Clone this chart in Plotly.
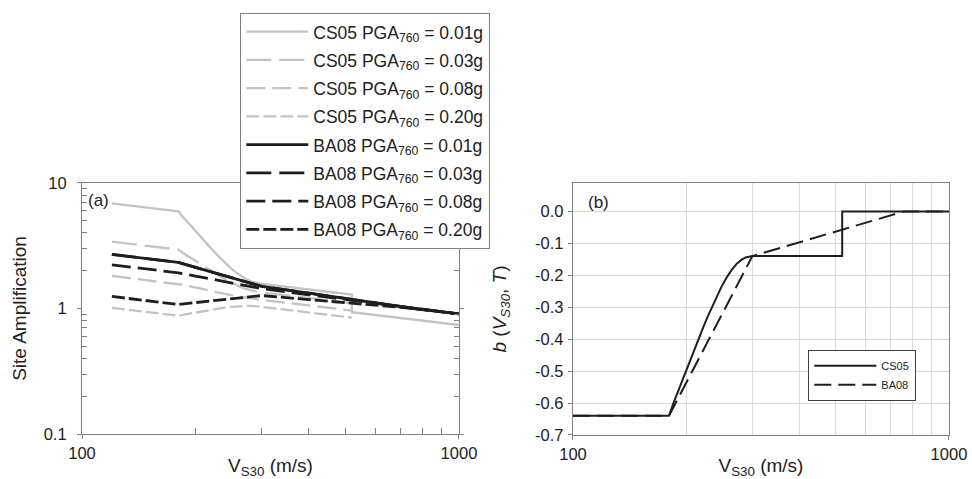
import plotly.graph_objects as go

# ---------------- data: panel (a) site amplification ----------------
cs05_v = [120, 180, 185, 190, 195, 200, 209, 215, 222, 228, 234, 241, 248, 256, 264, 272, 281, 288, 296, 300, 520]
cs05_v_001 = cs05_v + [520, 1000]
cs05_amp_001 = [6.88, 5.95, 5.38, 4.91, 4.50, 4.12, 3.54, 3.22, 2.92, 2.68, 2.48, 2.27, 2.10, 1.94, 1.82, 1.72, 1.64, 1.61, 1.58, 1.57, 1.29, 0.934, 0.739]
cs05_amp_003 = [3.41, 2.95, 2.78, 2.64, 2.51, 2.39, 2.19, 2.07, 1.96, 1.865, 1.78, 1.695, 1.62, 1.545, 1.48, 1.435, 1.39, 1.371, 1.35, 1.34, 1.105]
cs05_amp_008 = [1.82, 1.57, 1.544, 1.517, 1.49, 1.467, 1.43, 1.399, 1.37, 1.349, 1.33, 1.304, 1.28, 1.259, 1.24, 1.221, 1.20, 1.191, 1.18, 1.17, 0.963]
cs05_amp_020 = [1.011, 0.875, 0.891, 0.904, 0.917, 0.931, 0.955, 0.970, 0.984, 0.997, 1.009, 1.021, 1.032, 1.041, 1.047, 1.049, 1.048, 1.043, 1.036, 1.031, 0.847]

ba08_v = [120, 180, 200, 220, 240, 260, 280, 300, 400, 520, 600, 700, 760, 1000]
ba08_amp_001 = [2.695, 2.329, 2.127, 1.960, 1.819, 1.698, 1.593, 1.501, 1.324, 1.180, 1.109, 1.037, 1.000, 0.906]
ba08_amp_003 = [2.695, 2.329, 2.127, 1.960, 1.819, 1.698, 1.593, 1.501, 1.324, 1.180, 1.109, 1.037, 1.000, 0.906]
ba08_amp_008 = [2.226, 1.924, 1.812, 1.717, 1.634, 1.561, 1.497, 1.440, 1.286, 1.160, 1.097, 1.033, 1.000, 0.906]
ba08_amp_020 = [1.247, 1.078, 1.115, 1.149, 1.181, 1.212, 1.241, 1.268, 1.178, 1.102, 1.062, 1.021, 1.000, 0.906]

# ---------------- data: panel (b) nonlinear coefficient b ----------------
b_v_cs05 = [100, 180, 185, 190, 195, 200, 209, 215, 222, 228, 234, 241, 248, 256, 264, 272, 281, 288, 296, 300, 520, 520, 1000]
b_cs05 = [-0.64, -0.64, -0.60, -0.565, -0.531, -0.497, -0.437, -0.40, -0.363, -0.330, -0.300, -0.267, -0.237,
          -0.208, -0.184, -0.165, -0.151, -0.144, -0.1405, -0.14, -0.14, 0.0, 0.0]
b_v_ba08 = [100, 180, 300, 760, 1000]
b_ba08 = [-0.64, -0.64, -0.14, 0.0, 0.0]

# ---------------- tick labels ----------------
x_tickvals = [100, 1000]
x_ticktext = ["100", "1000"]
amp_tickvals = [0.1, 1, 10]
amp_ticktext = ["0.1", "1", "10"]
b_tickvals = [-0.7, -0.6, -0.5, -0.4, -0.3, -0.2, -0.1, 0.0]
b_ticktext = ["-0.7", "-0.6", "-0.5", "-0.4", "-0.3", "-0.2", "-0.1", "0.0"]

pga_labels = ["0.01g", "0.03g", "0.08g", "0.20g"]

FONT = "Liberation Sans, Arial, sans-serif"
GRAY = "#c3c3c3"
BLACK = "#1e1e1e"
AXC = "#808080"
DASHES = ["solid", "25px,8px", "19px,7px", "13px,4px"]

fig = go.Figure()

cs05_sets = [(cs05_v_001, cs05_amp_001), (cs05_v, cs05_amp_003),
             (cs05_v, cs05_amp_008), (cs05_v, cs05_amp_020)]
for i, (vx, amp) in enumerate(cs05_sets):
    fig.add_trace(go.Scatter(
        x=vx, y=amp, mode="lines", xaxis="x", yaxis="y",
        line=dict(color=GRAY, width=2.3, dash=DASHES[i]),
        name="CS05 PGA<sub>760</sub> = " + pga_labels[i],
        legend="legend", legendgroup="c%d" % i))

ba08_sets = [ba08_amp_001, ba08_amp_003, ba08_amp_008, ba08_amp_020]
for i, amp in enumerate(ba08_sets):
    fig.add_trace(go.Scatter(
        x=ba08_v, y=amp, mode="lines", xaxis="x", yaxis="y",
        line=dict(color=BLACK, width=2.8, dash=DASHES[i]),
        name="BA08 PGA<sub>760</sub> = " + pga_labels[i],
        legend="legend", legendgroup="b%d" % i))

fig.add_trace(go.Scatter(
    x=b_v_cs05, y=b_cs05, mode="lines", xaxis="x2", yaxis="y2",
    line=dict(color=BLACK, width=2), name="CS05", legend="legend2"))
fig.add_trace(go.Scatter(
    x=b_v_ba08, y=b_ba08, mode="lines", xaxis="x2", yaxis="y2",
    line=dict(color=BLACK, width=2, dash="17px,7px"), name="BA08", legend="legend2"))

minor_x = [k * 100 for k in range(2, 10)]
minor_amp = [k * 0.1 for k in range(2, 10)] + [k for k in range(2, 10)]

tickfont = dict(family=FONT, size=16.5, color="#222222")
titlefont = dict(family=FONT, size=19, color="#222222")

common_x = dict(type="log", range=[2, 3], showline=True, linecolor=AXC, linewidth=1.3,
                mirror=True, tickvals=x_tickvals, ticktext=x_ticktext, ticks="outside",
                ticklen=4, tickcolor=AXC, tickwidth=1.3, showgrid=False, zeroline=False,
                tickfont=tickfont, ticklabelstandoff=0, automargin=False)

fig.update_layout(
    template="none",
    width=972, height=479,
    margin=dict(l=0, r=0, t=0, b=0, pad=0),
    paper_bgcolor="white", plot_bgcolor="white",
    showlegend=True,
    xaxis=dict(common_x, domain=[0.0844, 0.4722], anchor="y",
               minor=dict(tickvals=minor_x, ticks="inside", ticklen=6, tickcolor=AXC, tickwidth=1.3),
               title=dict(text="V<sub>S30</sub> (m/s)", font=titlefont, standoff=2)),
    yaxis=dict(type="log", range=[-1, 1], domain=[0.0939, 0.6180], anchor="x",
               showline=True, linecolor=AXC, linewidth=1.3, mirror="ticks",
               tickvals=amp_tickvals, ticktext=amp_ticktext, ticks="outside", ticklen=4,
               tickcolor=AXC, tickwidth=1.3, showgrid=False, zeroline=False,
               minor=dict(tickvals=minor_amp, ticks="inside", ticklen=5, tickcolor=AXC, tickwidth=1.3),
               tickfont=tickfont, ticklabelstandoff=7, automargin=False,
               title=dict(text="Site Amplification", font=titlefont, standoff=11)),
    xaxis2=dict(common_x, domain=[0.5895, 0.9763], anchor="y2",
                minor=dict(tickvals=minor_x, ticks="", showgrid=True, gridcolor="#d9d9d9", gridwidth=1.3),
                title=dict(text="V<sub>S30</sub> (m/s)", font=titlefont, standoff=2)),
    yaxis2=dict(range=[-0.7, 0.089], domain=[0.0919, 0.6180], anchor="x2",
                showline=True, linecolor=AXC, linewidth=1.3, mirror=True,
                tickvals=b_tickvals, ticktext=b_ticktext, ticks="outside", ticklen=4,
                tickcolor=AXC, tickwidth=1.3, showgrid=True, gridcolor="#d9d9d9", gridwidth=1.3,
                zeroline=False, tickfont=tickfont, ticklabelstandoff=1, automargin=False,
                title=dict(text="<i>b</i> (<i>V<sub>S30</sub></i>, <i>T</i>)", font=titlefont, standoff=23)),
    legend=dict(x=240 / 972, y=1 - 131 / 479, xanchor="left", yanchor="middle",
                bgcolor="white", bordercolor=AXC, borderwidth=1.3,
                font=dict(family=FONT, size=17.5, color="#222222"),
                itemwidth=62, tracegroupgap=2.5, traceorder="grouped"),
    legend2=dict(x=808 / 972, y=1 - 375.5 / 479, xanchor="left", yanchor="middle",
                 bgcolor="white", bordercolor="#404040", borderwidth=1.3,
                 font=dict(family=FONT, size=11, color="#222222"),
                 itemwidth=62, traceorder="normal"),
    annotations=[
        dict(text="(a)", x=86 / 972, y=1 - 200 / 479, xref="paper", yref="paper",
             xanchor="left", yanchor="middle", showarrow=False,
             font=dict(family=FONT, size=17, color="#222222")),
        dict(text="(b)", x=586 / 972, y=1 - 203 / 479, xref="paper", yref="paper",
             xanchor="left", yanchor="middle", showarrow=False,
             font=dict(family=FONT, size=17, color="#222222")),
    ],
)

fig.write_html("out.html", config={"displayModeBar": False},
               post_script="document.body.style.margin='0';")
